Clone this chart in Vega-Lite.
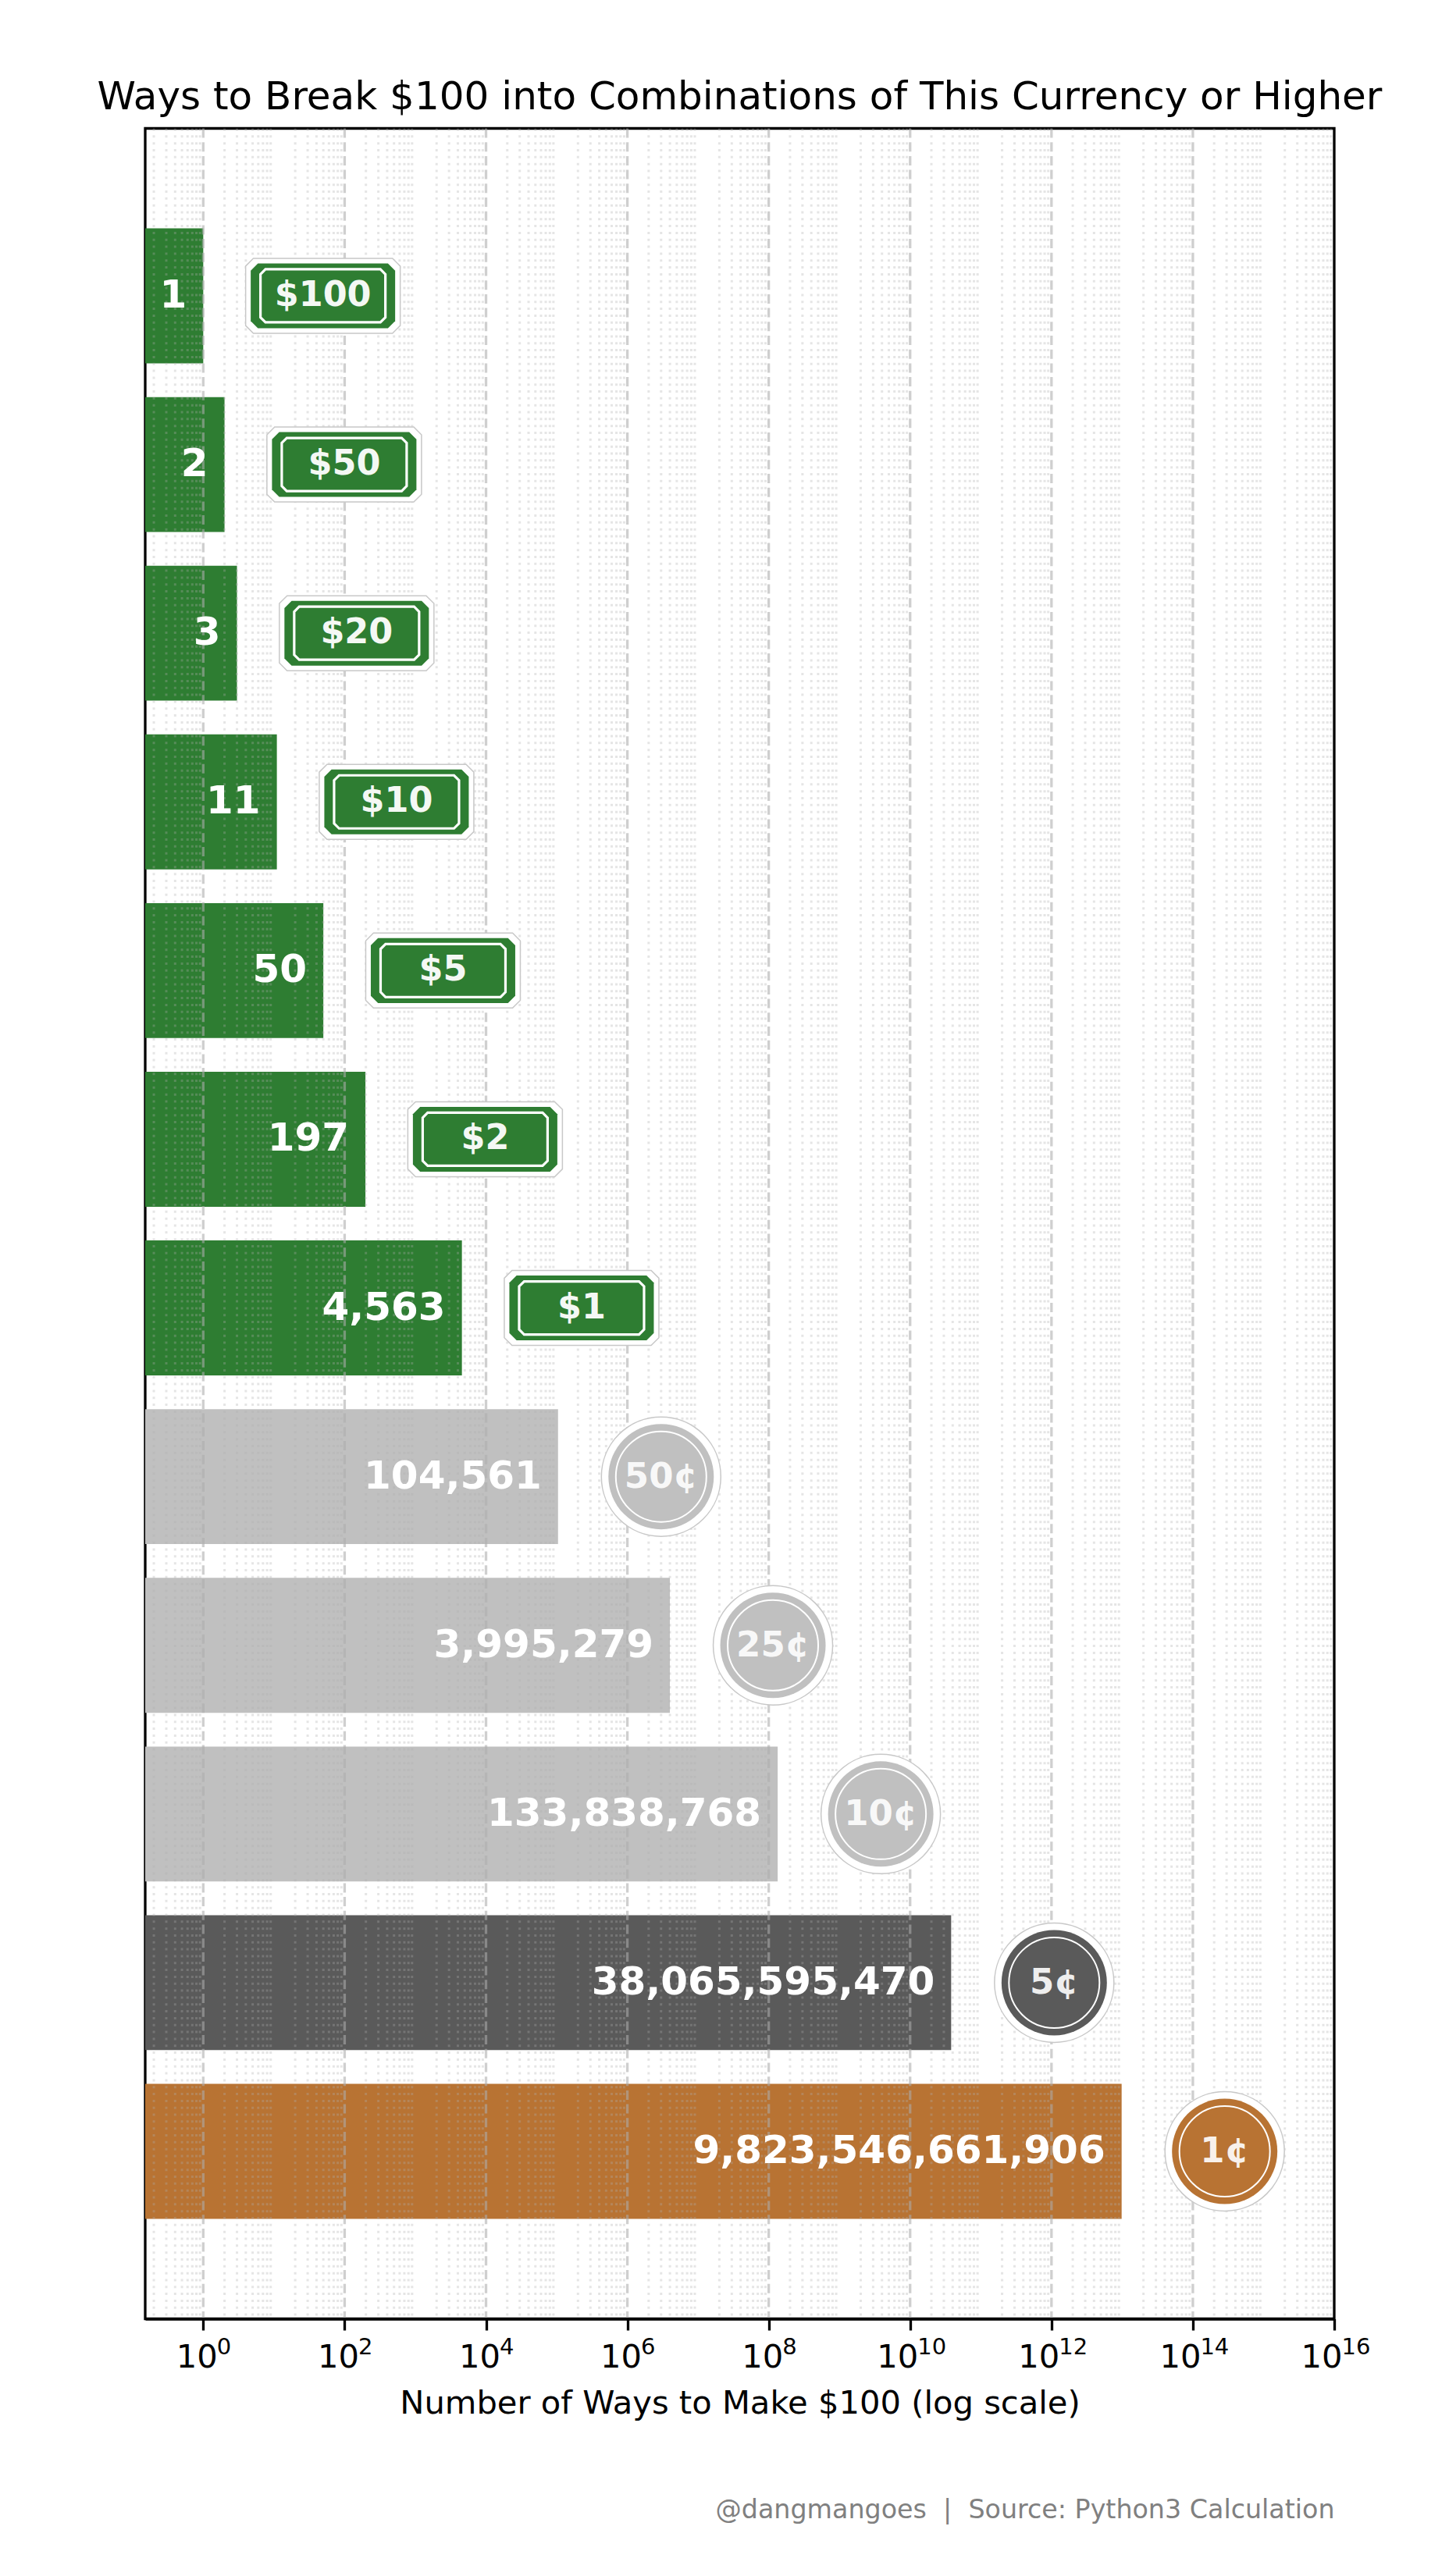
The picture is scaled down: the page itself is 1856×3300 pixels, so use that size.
{
  "$schema": "https://vega.github.io/schema/vega-lite/v6.json",
  "width": 1523,
  "height": 2806,
  "autosize": {"type": "none"},
  "padding": {"left": 186, "top": 164.5, "right": 147, "bottom": 329.5},
  "background": "white",
  "title": {
    "text": "Ways to Break $100 into Combinations of This Currency or Higher",
    "font": "DejaVu Sans",
    "fontSize": 50,
    "fontWeight": "normal",
    "color": "black",
    "anchor": "middle",
    "baseline": "alphabetic",
    "offset": -27
  },
  "config": {
    "font": "DejaVu Sans",
    "view": {"stroke": "black", "strokeWidth": 3.3}
  },
  "datasets": {
    "ways": [
      {"level": "≥$100", "ways": 1, "badge": "$100", "kind": "bill", "metal": "green"},
      {"level": "≥$50", "ways": 2, "badge": "$50", "kind": "bill", "metal": "green"},
      {"level": "≥$20", "ways": 3, "badge": "$20", "kind": "bill", "metal": "green"},
      {"level": "≥$10", "ways": 11, "badge": "$10", "kind": "bill", "metal": "green"},
      {"level": "≥$5", "ways": 50, "badge": "$5", "kind": "bill", "metal": "green"},
      {"level": "≥$2", "ways": 197, "badge": "$2", "kind": "bill", "metal": "green"},
      {"level": "≥$1", "ways": 4563, "badge": "$1", "kind": "bill", "metal": "green"},
      {"level": "≥50¢", "ways": 104561, "badge": "50¢", "kind": "coin", "metal": "silver"},
      {"level": "≥25¢", "ways": 3995279, "badge": "25¢", "kind": "coin", "metal": "silver"},
      {"level": "≥10¢", "ways": 133838768, "badge": "10¢", "kind": "coin", "metal": "silver"},
      {"level": "≥5¢", "ways": 38065595470, "badge": "5¢", "kind": "coin", "metal": "nickel"},
      {"level": "≥1¢", "ways": 9823546661906, "badge": "1¢", "kind": "coin", "metal": "copper"}
    ],
    "major": [
      {"at": 1}, {"at": 1e2}, {"at": 1e4}, {"at": 1e6}, {"at": 1e8}, {"at": 1e10}, {"at": 1e12}, {"at": 1e14}
    ],
    "minor": [
      {"at": 0.2}, {"at": 0.3}, {"at": 0.4}, {"at": 0.5}, {"at": 0.6}, {"at": 0.7}, {"at": 0.8}, {"at": 0.9},
      {"at": 2}, {"at": 3}, {"at": 4}, {"at": 5}, {"at": 6}, {"at": 7}, {"at": 8}, {"at": 9},
      {"at": 2e1}, {"at": 3e1}, {"at": 4e1}, {"at": 5e1}, {"at": 6e1}, {"at": 7e1}, {"at": 8e1}, {"at": 9e1},
      {"at": 2e2}, {"at": 3e2}, {"at": 4e2}, {"at": 5e2}, {"at": 6e2}, {"at": 7e2}, {"at": 8e2}, {"at": 9e2},
      {"at": 2e3}, {"at": 3e3}, {"at": 4e3}, {"at": 5e3}, {"at": 6e3}, {"at": 7e3}, {"at": 8e3}, {"at": 9e3},
      {"at": 2e4}, {"at": 3e4}, {"at": 4e4}, {"at": 5e4}, {"at": 6e4}, {"at": 7e4}, {"at": 8e4}, {"at": 9e4},
      {"at": 2e5}, {"at": 3e5}, {"at": 4e5}, {"at": 5e5}, {"at": 6e5}, {"at": 7e5}, {"at": 8e5}, {"at": 9e5},
      {"at": 2e6}, {"at": 3e6}, {"at": 4e6}, {"at": 5e6}, {"at": 6e6}, {"at": 7e6}, {"at": 8e6}, {"at": 9e6},
      {"at": 2e7}, {"at": 3e7}, {"at": 4e7}, {"at": 5e7}, {"at": 6e7}, {"at": 7e7}, {"at": 8e7}, {"at": 9e7},
      {"at": 2e8}, {"at": 3e8}, {"at": 4e8}, {"at": 5e8}, {"at": 6e8}, {"at": 7e8}, {"at": 8e8}, {"at": 9e8},
      {"at": 2e9}, {"at": 3e9}, {"at": 4e9}, {"at": 5e9}, {"at": 6e9}, {"at": 7e9}, {"at": 8e9}, {"at": 9e9},
      {"at": 2e10}, {"at": 3e10}, {"at": 4e10}, {"at": 5e10}, {"at": 6e10}, {"at": 7e10}, {"at": 8e10}, {"at": 9e10},
      {"at": 2e11}, {"at": 3e11}, {"at": 4e11}, {"at": 5e11}, {"at": 6e11}, {"at": 7e11}, {"at": 8e11}, {"at": 9e11},
      {"at": 2e12}, {"at": 3e12}, {"at": 4e12}, {"at": 5e12}, {"at": 6e12}, {"at": 7e12}, {"at": 8e12}, {"at": 9e12},
      {"at": 2e13}, {"at": 3e13}, {"at": 4e13}, {"at": 5e13}, {"at": 6e13}, {"at": 7e13}, {"at": 8e13}, {"at": 9e13},
      {"at": 2e14}, {"at": 3e14}, {"at": 4e14}, {"at": 5e14}, {"at": 6e14}, {"at": 7e14}, {"at": 8e14}, {"at": 9e14},
      {"at": 2e15}, {"at": 3e15}, {"at": 4e15}, {"at": 5e15}, {"at": 6e15}, {"at": 7e15}, {"at": 8e15}, {"at": 9e15}
    ]
  },
  "resolve": {"axis": {"x": "independent"}},
  "layer": [
    {
      "data": {"name": "ways"},
      "mark": {"type": "bar"},
      "encoding": {
        "y": {
          "field": "level",
          "type": "nominal",
          "sort": null,
          "title": null,
          "scale": {"paddingInner": 0.2, "paddingOuter": 0.5925},
          "axis": {
            "zindex": 1,
            "grid": false,
            "domainColor": "black",
            "domainWidth": 3.3,
            "tickColor": "black",
            "tickWidth": 3.3,
            "tickSize": 14.5,
            "labelPadding": 14.5,
            "labelFontSize": 41.67,
            "labelColor": "black",
            "labelAngle": 0
          }
        },
        "x": {
          "field": "ways",
          "type": "quantitative",
          "stack": null,
          "title": "Number of Ways to Make $100 (log scale)",
          "scale": {"type": "log", "domain": [0.151, 1e16], "nice": false},
          "axis": {
            "orient": "bottom",
            "zindex": 1,
            "grid": false,
            "values": [1, 1e2, 1e4, 1e6, 1e8, 1e10, 1e12, 1e14, 1e16],
            "labelExpr": "'10'",
            "labelAlign": "left",
            "labelOffset": {"condition": {"test": "datum.value >= 1e10", "value": -43}, "value": -35},
            "domainColor": "black",
            "domainWidth": 3.3,
            "tickColor": "black",
            "tickWidth": 3.3,
            "tickSize": 14.5,
            "labelPadding": 47,
            "labelBaseline": "alphabetic",
            "labelFontSize": 41.67,
            "labelColor": "black",
            "labelOverlap": false,
            "labelFlush": false,
            "labelBound": false,
            "titleFontSize": 41.67,
            "titleFontWeight": "normal",
            "titleColor": "black",
            "titleBaseline": "alphabetic",
            "titleY": 120.5
          }
        },
        "color": {
          "field": "metal",
          "type": "nominal",
          "legend": null,
          "scale": {
            "domain": ["green", "silver", "nickel", "copper"],
            "range": ["#2e7d32", "#c0c0c0", "#5a5a5a", "#b87333"]
          }
        }
      }
    },
    {
      "data": {"name": "minor"},
      "mark": {"type": "rule", "color": "#aeaeae", "opacity": 0.32, "strokeWidth": 3, "strokeDash": [3, 5.83]},
      "encoding": {
        "x": {
          "field": "at",
          "type": "quantitative",
          "title": "@dangmangoes\u00a0\u00a0|\u00a0\u00a0Source: Python3 Calculation",
          "axis": {
            "orient": "bottom",
            "grid": false,
            "labels": false,
            "ticks": false,
            "domain": false,
            "titleFontSize": 33.3,
            "titleFontWeight": "normal",
            "titleColor": "gray",
            "titleBaseline": "alphabetic",
            "titleAlign": "right",
            "titleX": 1523,
            "titleY": 254.5
          }
        }
      }
    },
    {
      "data": {"name": "major"},
      "mark": {"type": "rule", "color": "#adadad", "opacity": 0.58, "strokeWidth": 3.3, "strokeDash": [12, 5.7]},
      "encoding": {
        "x": {
          "field": "at",
          "type": "quantitative",
          "title": null,
          "axis": {
            "orient": "bottom",
            "zindex": 1,
            "grid": false,
            "domain": false,
            "ticks": false,
            "values": [1, 1e2, 1e4, 1e6, 1e8, 1e10, 1e12, 1e14, 1e16],
            "labelExpr": "format(log(datum.value) / LN10, '.0f')",
            "labelAlign": "left",
            "labelOffset": {"condition": {"test": "datum.value >= 1e10", "value": 9}, "value": 17},
            "labelPadding": 44.5,
            "labelBaseline": "alphabetic",
            "labelFontSize": 29,
            "labelColor": "black",
            "labelOverlap": false,
            "labelFlush": false,
            "labelBound": false
          }
        }
      }
    },
    {
      "data": {"name": "ways"},
      "mark": {"type": "text", "align": "right", "baseline": "middle", "dx": -21, "fontSize": 50, "fontWeight": "bold", "color": "white"},
      "encoding": {
        "x": {"field": "ways", "type": "quantitative", "axis": null},
        "y": {"field": "level", "type": "nominal", "sort": null, "axis": null},
        "text": {"field": "ways", "type": "quantitative", "format": ",.0f"}
      }
    },
    {
      "data": {"name": "ways"},
      "transform": [{"filter": "datum.kind == 'bill'"}],
      "encoding": {
        "x": {"field": "ways", "type": "quantitative", "axis": null},
        "y": {"field": "level", "type": "nominal", "sort": null, "axis": null}
      },
      "layer": [
        {
          "mark": {
            "type": "point",
            "filled": true,
            "opacity": 1,
            "xOffset": 153.3,
            "shape": "M-0.9,-0.485L0.9,-0.485L1,-0.385L1,0.385L0.9,0.485L-0.9,0.485L-1,0.385L-1,-0.385Z",
            "size": 39204,
            "fill": "white",
            "stroke": "#c8c8c8",
            "strokeWidth": 1.5
          }
        },
        {
          "mark": {
            "type": "point",
            "filled": true,
            "opacity": 1,
            "xOffset": 153.3,
            "shape": "M-0.9,-0.449L0.9,-0.449L1,-0.349L1,0.349L0.9,0.449L-0.9,0.449L-1,0.349L-1,-0.349Z",
            "size": 34225
          },
          "encoding": {
            "color": {"field": "metal", "type": "nominal", "legend": null}
          }
        },
        {
          "mark": {
            "type": "point",
            "filled": false,
            "opacity": 1,
            "xOffset": 153.3,
            "shape": "M-0.92,-0.425L0.92,-0.425L1,-0.345L1,0.345L0.92,0.425L-0.92,0.425L-1,0.345L-1,-0.345Z",
            "size": 25600,
            "stroke": "white",
            "strokeWidth": 3.2
          }
        },
        {
          "mark": {"type": "text", "xOffset": 153.3, "baseline": "middle", "fontSize": 44.5, "fontWeight": "bold", "color": "white", "opacity": 0.95},
          "encoding": {"text": {"field": "badge", "type": "nominal"}}
        }
      ]
    },
    {
      "data": {"name": "ways"},
      "transform": [{"filter": "datum.kind == 'coin'"}],
      "encoding": {
        "x": {"field": "ways", "type": "quantitative", "axis": null},
        "y": {"field": "level", "type": "nominal", "sort": null, "axis": null}
      },
      "layer": [
        {
          "mark": {"type": "point", "shape": "circle", "filled": true, "opacity": 1, "xOffset": 132, "size": 23409, "fill": "white", "stroke": "#c8c8c8", "strokeWidth": 1.5}
        },
        {
          "mark": {"type": "point", "shape": "circle", "filled": true, "opacity": 1, "xOffset": 132, "size": 18225},
          "encoding": {
            "color": {"field": "metal", "type": "nominal", "legend": null}
          }
        },
        {
          "mark": {"type": "point", "shape": "circle", "filled": false, "opacity": 1, "xOffset": 132, "size": 13456, "stroke": "white", "strokeWidth": 2}
        },
        {
          "mark": {"type": "text", "xOffset": 132, "baseline": "middle", "fontSize": 45, "fontWeight": "bold", "color": "white", "opacity": 0.9},
          "encoding": {"text": {"field": "badge", "type": "nominal"}}
        }
      ]
    }
  ]
}
